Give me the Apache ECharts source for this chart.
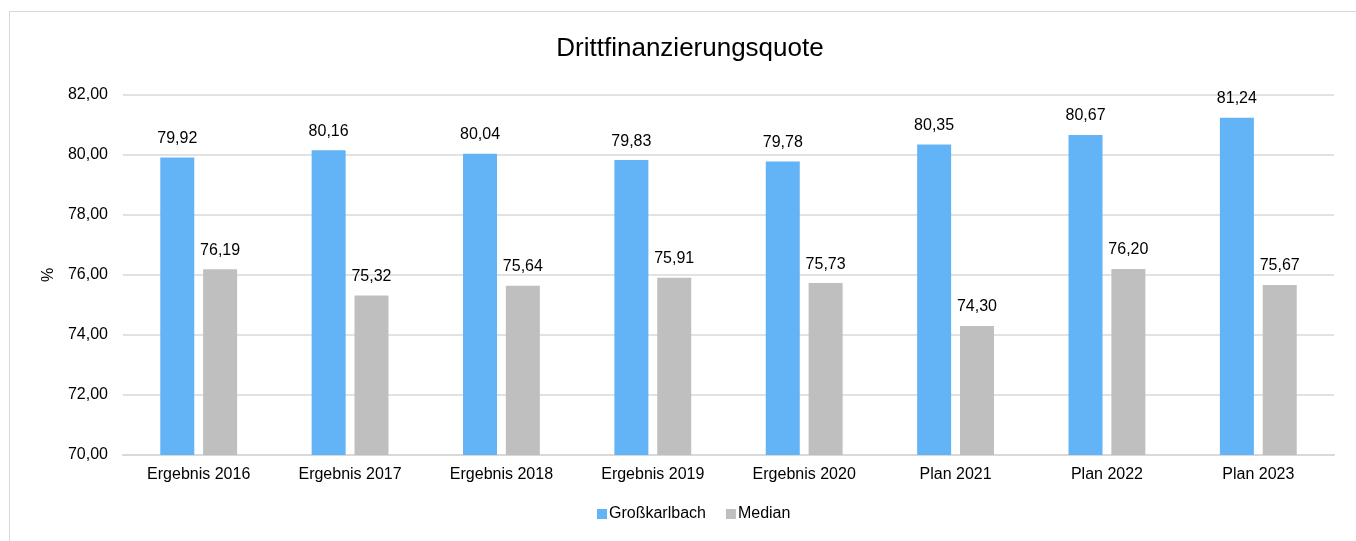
<!DOCTYPE html>
<html>
<head>
<meta charset="utf-8">
<script src="https://cdn.jsdelivr.net/npm/echarts@6/dist/echarts.min.js"></script>
<style>
  html, body { margin: 0; padding: 0; background: #fff; }
  #frame {
    position: absolute; left: 9px; top: 11px; width: 1347px; height: 530px;
    border-left: 1px solid #D9D9D9; border-top: 1px solid #D9D9D9;
  }
  #main { position: absolute; left: 0; top: 0; width: 1356px; height: 541px; }
</style>
</head>
<body>
<div id="frame"></div>
<div id="main"></div>
<script>
  // Kategorien und Werte
  var categories = ['Ergebnis 2016', 'Ergebnis 2017', 'Ergebnis 2018', 'Ergebnis 2019',
    'Ergebnis 2020', 'Plan 2021', 'Plan 2022', 'Plan 2023'];
  var grosskarlbach = [79.92, 80.16, 80.04, 79.83, 79.78, 80.35, 80.67, 81.24];
  var median = [76.19, 75.32, 75.64, 75.91, 75.73, 74.30, 76.20, 75.67];

  function fmt(v) {
    return Number(v).toFixed(2).replace('.', ',');
  }

  var font = 'Liberation Sans, Arial, sans-serif';
  var chart = echarts.init(document.getElementById('main'));

  var option = {
    animation: false,
    textStyle: { fontFamily: font },
    title: {
      text: 'Drittfinanzierungsquote',
      left: 685,
      textAlign: 'center',
      top: 31,
      textStyle: { fontFamily: font, fontSize: 26, fontWeight: 'normal', color: '#000' }
    },
    legend: {
      bottom: 14,
      left: 592,
      itemWidth: 10,
      itemHeight: 10,
      itemGap: 20,
      icon: 'rect',
      textStyle: { fontFamily: font, fontSize: 16, color: '#000', padding: [0, 0, 0, -3] },
      data: ['Großkarlbach', 'Median']
    },
    grid: { left: 123, right: 22, top: 95, bottom: 86, containLabel: false },
    xAxis: {
      type: 'category',
      data: categories,
      axisLine: { lineStyle: { color: '#D9D9D9', width: 2 } },
      axisTick: { show: false },
      axisLabel: { color: '#000', fontSize: 16, fontFamily: font, margin: 12 }
    },
    yAxis: {
      type: 'value',
      min: 70,
      max: 82,
      interval: 2,
      name: '%',
      nameLocation: 'middle',
      nameGap: 60,
      nameTextStyle: { color: '#000', fontSize: 16, fontFamily: font },
      axisLine: { show: false },
      axisTick: { show: false },
      splitLine: { lineStyle: { color: '#D9D9D9', width: 1.5 } },
      axisLabel: { color: '#000', fontSize: 16, fontFamily: font, margin: 15, formatter: fmt }
    },
    series: [
      {
        name: 'Großkarlbach',
        type: 'bar',
        data: grosskarlbach,
        barWidth: 34,
        barGap: '26%',
        itemStyle: { color: '#63B4F6' },
        label: { show: true, position: 'top', distance: 11, color: '#000', fontSize: 16, fontFamily: font, formatter: function (p) { return fmt(p.value); } }
      },
      {
        name: 'Median',
        type: 'bar',
        data: median,
        barWidth: 34,
        itemStyle: { color: '#BFBFBF' },
        label: { show: true, position: 'top', distance: 11, color: '#000', fontSize: 16, fontFamily: font, formatter: function (p) { return fmt(p.value); } }
      }
    ]
  };

  chart.setOption(option);
</script>
</body>
</html>
